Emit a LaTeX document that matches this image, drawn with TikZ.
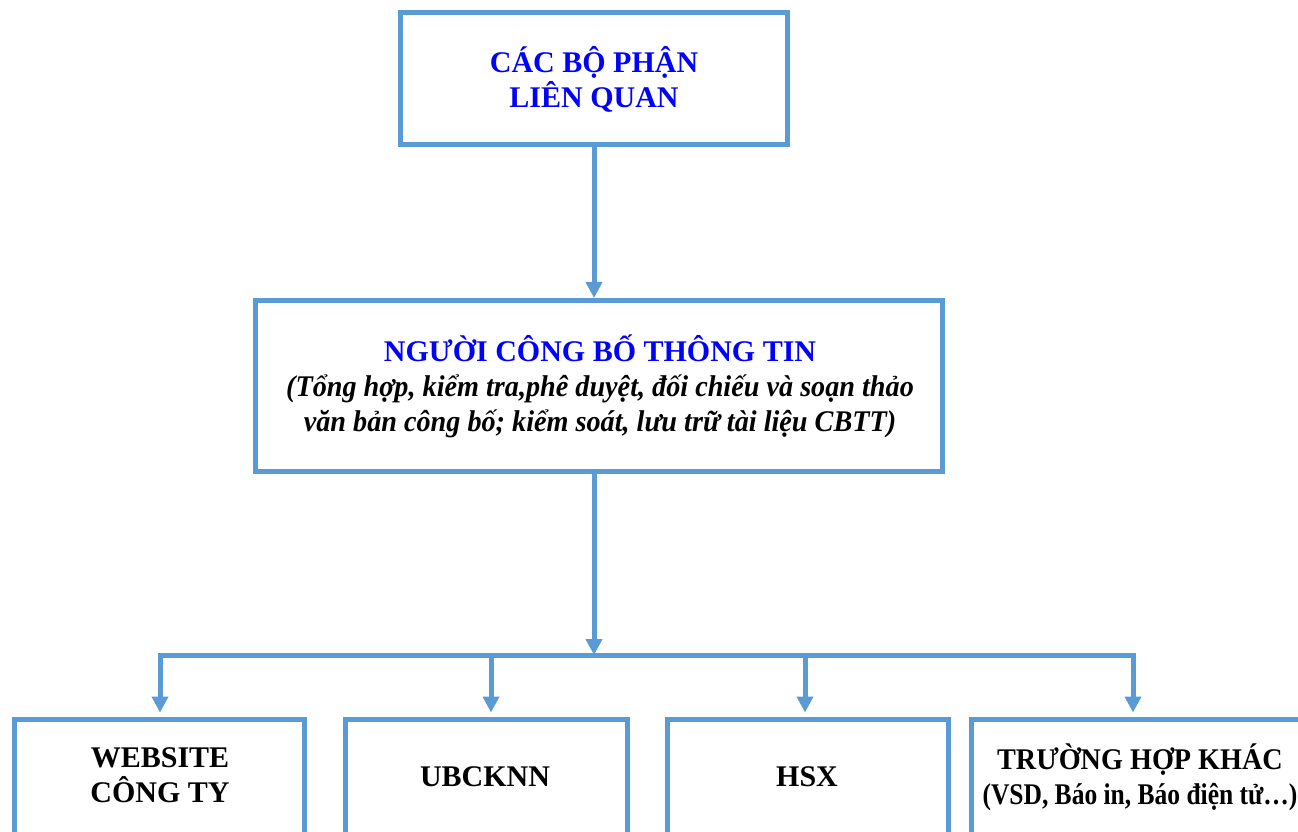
\documentclass[tikz,border=0pt]{standalone}
\usepackage{fontspec}
\setmainfont{Liberation Serif}
\newfontfamily\tfa[FakeStretch=0.94]{Liberation Serif}
\newfontfamily\tfc[FakeStretch=0.85]{Liberation Serif}
\usetikzlibrary{arrows.meta}
\definecolor{lineblue}{HTML}{5B9BD5}
\definecolor{txtblue}{HTML}{0000FF}
\begin{document}
\begin{tikzpicture}[x=1pt,y=-1pt,
  box/.style={draw=lineblue,line width=5pt,fill=white,inner sep=0pt,rectangle},
  conn/.style={draw=lineblue,line width=5pt},
  arr/.style={-{Triangle[width=16pt,length=16pt]}},
  lbl/.style={align=center,inner sep=0pt,font=\bfseries\fontsize{30}{35}\selectfont}]
\useasboundingbox (0,0) rectangle (1298,831);
\clip (0,0) rectangle (1298,831);
\fill[white] (0,0) rectangle (1298,831);
% boxes
\node[box,minimum width=387pt,minimum height=132pt] (top) at (594,78.5) {};
\node[box,minimum width=687pt,minimum height=171pt] (mid) at (599,386) {};
\node[box,minimum width=290pt,minimum height=170pt] (b1) at (159,804) {};
\node[box,minimum width=282pt,minimum height=170pt] (b2) at (486,804) {};
\node[box,minimum width=281pt,minimum height=170pt] (b3) at (807.5,804) {};
\node[box,minimum width=334pt,minimum height=170pt] (b4) at (1138,804) {};
% texts
\node[lbl,text=txtblue] (ttop) at (594,79) {CÁC BỘ PHẬN\\LIÊN QUAN};
\node[lbl] (tmid) at (600,386) {\textcolor{txtblue}{NGƯỜI CÔNG BỐ THÔNG TIN}\\
  \tfa\bfseries\itshape (Tổng hợp, kiểm tra,phê duyệt, đối chiếu và soạn thảo\\
  \tfa\bfseries\itshape văn bản công bố; kiểm soát, lưu trữ tài liệu CBTT)};
\node[lbl] (t1) at (160,775) {WEBSITE\\CÔNG TY};
\node[lbl] (t2) at (485,777) {UBCKNN};
\node[lbl] (t3) at (807,777) {HSX};
\node[lbl,font=\tfa\bfseries\fontsize{30}{35}\selectfont] (t4) at (1140,777) {TRƯỜNG HỢP KHÁC\\{\tfc\bfseries (VSD, Báo in, Báo điện tử…)}};
% connectors
\coordinate (j) at (594,655);
\coordinate (d1) at (160,655);
\coordinate (d2) at (491,655);
\coordinate (d3) at (805,655);
\coordinate (d4) at (1133,655);
\draw[conn,arr] (top.south) -- (mid.north -| top.south);
\draw[conn,arr] (mid.south -| top.south) -- (j);
\draw[conn,line cap=rect] (d1) -- (d4);
\draw[conn,arr,shorten >=4pt] (d1) -- (d1 |- b1.north);
\draw[conn,arr,shorten >=4pt] (d2) -- (d2 |- b2.north);
\draw[conn,arr,shorten >=4pt] (d3) -- (d3 |- b3.north);
\draw[conn,arr,shorten >=4pt] (d4) -- (d4 |- b4.north);
\end{tikzpicture}
\end{document}
